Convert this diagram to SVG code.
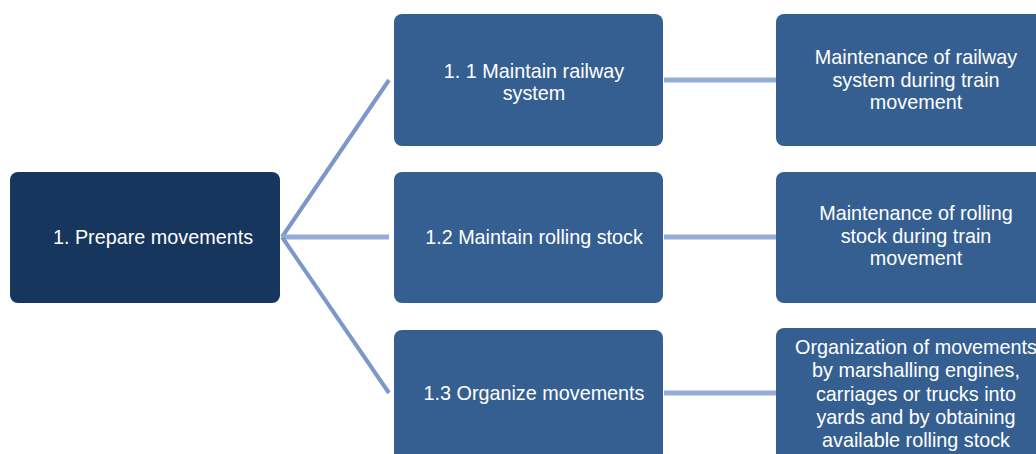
<svg xmlns="http://www.w3.org/2000/svg" width="1036" height="454" viewBox="0 0 1036 454">
<style>
.root{fill:#17365d}
.box{fill:#365f91}
.t{fill:#ffffff;font-family:"Liberation Sans",Arial,sans-serif;font-size:19.8px;text-anchor:middle}
.c{stroke:#7b98c9;stroke-width:4;fill:none;stroke-linecap:butt}
.h{stroke:#94aed6;stroke-width:5;fill:none}
</style>
<rect width="1036" height="454" fill="#ffffff"/>
<g id="connectors">
<line class="c" x1="282" y1="237" x2="389" y2="80"/>
<line class="h" x1="282" y1="237" x2="389" y2="237"/>
<line class="c" x1="282" y1="237" x2="389" y2="393"/>
<line class="h" x1="664" y1="80" x2="776" y2="80"/>
<line class="h" x1="664" y1="237" x2="776" y2="237"/>
<line class="h" x1="664" y1="393" x2="776" y2="393"/>
</g>
<g id="n1">
<rect class="root" x="10" y="172" width="270" height="131" rx="8"/>
<text class="t" x="153" y="244">1. Prepare movements</text>
</g>
<g id="n11">
<rect class="box" x="394" y="14" width="269" height="132" rx="8"/>
<text class="t" x="534" y="78">1. 1 Maintain railway</text>
<text class="t" x="534" y="100">system</text>
</g>
<g id="n12">
<rect class="box" x="394" y="172" width="269" height="131" rx="8"/>
<text class="t" x="534" y="244">1.2 Maintain rolling stock</text>
</g>
<g id="n13">
<rect class="box" x="394" y="330" width="269" height="140" rx="8"/>
<text class="t" x="534" y="400">1.3 Organize movements</text>
</g>
<g id="d11">
<rect class="box" x="776" y="14" width="280" height="132" rx="8"/>
<text class="t" x="916" y="64">Maintenance of railway</text>
<text class="t" x="916" y="87">system during train</text>
<text class="t" x="916" y="109">movement</text>
</g>
<g id="d12">
<rect class="box" x="776" y="172" width="280" height="131" rx="8"/>
<text class="t" x="916" y="220">Maintenance of rolling</text>
<text class="t" x="916" y="243">stock during train</text>
<text class="t" x="916" y="265">movement</text>
</g>
<g id="d13">
<rect class="box" x="776" y="328" width="280" height="140" rx="8"/>
<text class="t" x="916" y="354">Organization of movements</text>
<text class="t" x="916" y="377">by marshalling engines,</text>
<text class="t" x="916" y="401">carriages or trucks into</text>
<text class="t" x="916" y="424">yards and by obtaining</text>
<text class="t" x="916" y="447">available rolling stock</text>
</g>
</svg>
